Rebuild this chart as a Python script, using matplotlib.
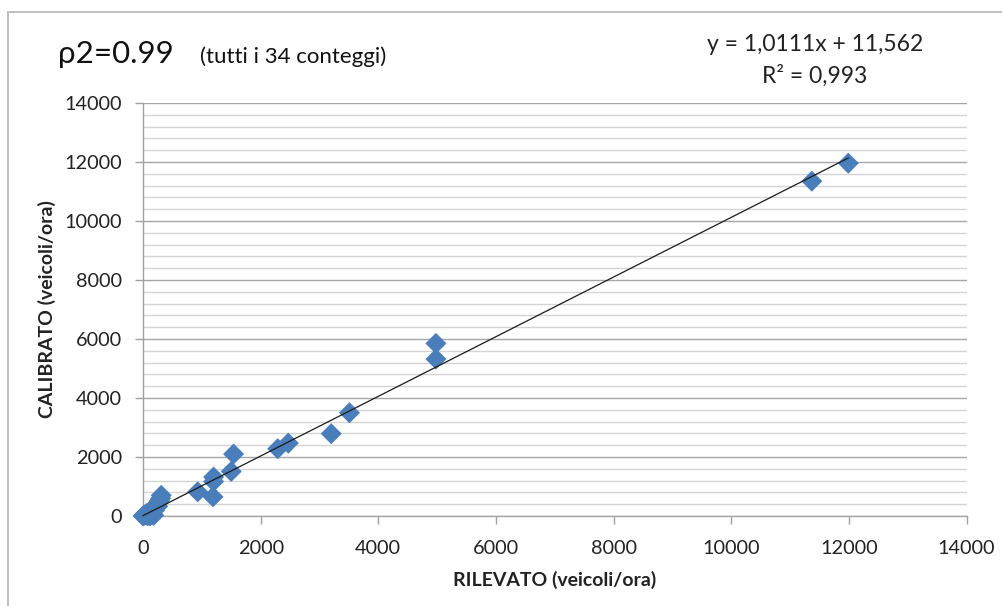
import numpy as np
import matplotlib
matplotlib.use("Agg")
import matplotlib.pyplot as plt
from matplotlib.patches import Rectangle
from matplotlib.ticker import MultipleLocator

plt.rcParams['font.family'] = ['Lato', 'DejaVu Sans']

# Data (rilevato vs calibrato, veicoli/ora)
rilevato = [11990, 11370, 4980, 4980, 3510, 3200, 2470, 2290, 1540, 1500,
            1200, 1200, 1190, 930,
            0, 20, 50, 80, 100, 120, 150, 170, 180, 200,
            210, 230, 250, 260, 280, 300, 310, 180, 60, 130]
calibrato = [11960, 11350, 5850, 5320, 3500, 2790, 2470, 2280, 2100, 1510,
             1320, 1170, 650, 820,
             0, 30, 40, 10, 120, 0, 150, 50, 230, 200,
             300, 380, 330, 450, 520, 600, 700, 20, 80, 100]

slope = 1.0111
intercept = 11.562
title_main = "\u03c12=0.99"
title_sub = "(tutti i 34 conteggi)"
eq_text = "y = 1,0111x + 11,562"
r2_text = "R\u00b2 = 0,993"
xlabel = "RILEVATO (veicoli/ora)"
ylabel = "CALIBRATO (veicoli/ora)"

W, H = 1003, 606
fig = plt.figure(figsize=(W / 100, H / 100), dpi=100)
fig.patch.set_facecolor('white')

# outer chart border
fig.patches.append(Rectangle((8 / W, -0.1), 1.2, 1 - 12 / H + 0.1,
                             transform=fig.transFigure, fill=False,
                             edgecolor='#bfbfbf', lw=1.4, zorder=0))

ax = fig.add_axes([143 / W, 1 - 516 / H, (966.5 - 143) / W, (516 - 103) / H])
ax.set_xlim(0, 14000)
ax.set_ylim(0, 14000)
ax.xaxis.set_major_locator(MultipleLocator(2000))
ax.yaxis.set_major_locator(MultipleLocator(2000))
ax.yaxis.set_minor_locator(MultipleLocator(400))

ax.grid(axis='y', which='minor', color='#d4d4d4', lw=1.0, zorder=0)
ax.grid(axis='y', which='major', color='#a6a6a6', lw=1.0, zorder=0)
ax.set_axisbelow(True)

for s in ['top', 'right']:
    ax.spines[s].set_visible(False)
ax.spines['left'].set_color('#a0a0a0')
ax.spines['bottom'].set_color('#a6a6a6')
ax.spines['left'].set_linewidth(1.0)
ax.spines['bottom'].set_linewidth(1.0)

ax.tick_params(axis='both', which='major', colors='#a0a0a0', labelcolor='#222222',
               labelsize=14.3, length=6, width=1.0, direction='out')
ax.tick_params(axis='y', which='major', pad=9)
ax.tick_params(axis='x', which='major', pad=11)
ax.tick_params(axis='y', which='minor', length=0)

ax.scatter(rilevato, calibrato, marker='D', s=115, color='#4a7ebb',
           edgecolors='none', zorder=3, clip_on=False)

xs = np.array([min(rilevato), max(rilevato)], dtype=float)
ax.plot(xs, slope * xs + intercept, color='#1a1a1a', lw=0.9, zorder=4,
        clip_on=False)

ax.set_xlabel(xlabel, fontsize=14, fontweight='bold', color='#222222', labelpad=10)
ax.set_ylabel(ylabel, fontsize=14, fontweight='bold', color='#222222', labelpad=6)

fig.text(58 / W, 1 - 63 / H, title_main, fontsize=22.5, color='#111111',
         ha='left', va='baseline')
fig.text(200 / W, 1 - 63 / H, title_sub, fontsize=16, color='#111111',
         ha='left', va='baseline')
fig.text(815 / W, 1 - 51 / H, eq_text, fontsize=16.5, color='#222222',
         ha='center', va='baseline')
fig.text(815 / W, 1 - 83 / H, r2_text, fontsize=16.5, color='#222222',
         ha='center', va='baseline')

fig.savefig("out.png", dpi=100, facecolor='white')
